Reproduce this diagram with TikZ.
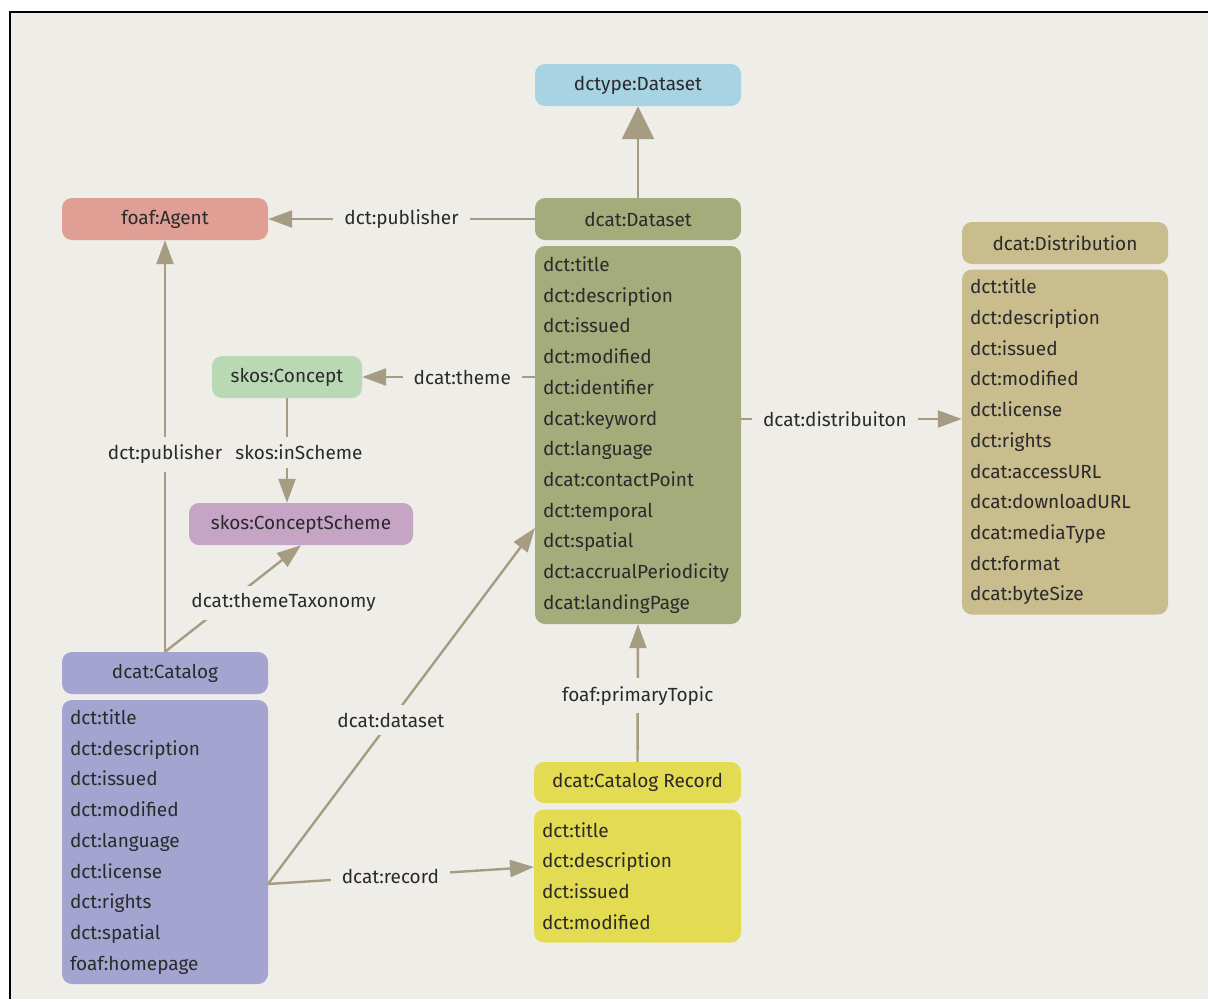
\documentclass[tikz,border=0pt]{standalone}
\usepackage{fontspec}
\setmainfont{Fira Sans}
\usetikzlibrary{arrows.meta}

\definecolor{paper}{HTML}{EFEDE8}
\definecolor{ink}{HTML}{2A2A2A}
\definecolor{wire}{HTML}{A69C82}
\definecolor{skyblue}{HTML}{A8D3E3}
\definecolor{salmon}{HTML}{E09F95}
\definecolor{olive}{HTML}{A4AC7B}
\definecolor{khaki}{HTML}{C9BC8D}
\definecolor{mint}{HTML}{B9D9B5}
\definecolor{mauve}{HTML}{C5A4C6}
\definecolor{lavender}{HTML}{A3A5D0}
\definecolor{lemon}{HTML}{E3DC52}

\begin{document}
\begin{tikzpicture}[x=1pt,y=-1pt,
  txt/.style={text=ink, font=\fontsize{19}{30.7}\selectfont},
  box/.style={txt, rounded corners=10pt, inner sep=0pt},
  head/.style={box, minimum width=206pt, minimum height=42pt},
  body/.style={box, text width=190pt, align=left, minimum width=206pt, inner xsep=8pt},
  link/.style={draw=wire, line width=2.4pt, -{Triangle[length=24pt,width=17pt]}},
  isa/.style={draw=wire, line width=2.6pt, -{Triangle[length=33pt,width=32pt]}},
  lbl/.style={txt, fill=paper, inner xsep=11pt, inner ysep=8pt}
]
\useasboundingbox (0,0) rectangle (1208,999);
% page frame
\fill[white] (0,0) rectangle (1208,999);
\fill[paper] (10,12) rectangle (1208,999);
\draw[black, line width=1.5pt] (10,999) -- (10,12) -- (1208,12);

% classes
\node[head, fill=skyblue] (dctype) at (638,85) {dctype:Dataset};
\node[head, fill=salmon] (agent) at (165,219) {foaf:Agent};
\node[head, fill=olive] (dsHead) at (638,219) {dcat:Dataset};
\node[body, fill=olive, minimum height=378pt] (dsBody) at (638,435) {dct:title\\dct:description\\dct:issued\\dct:modified\\dct:identifier\\dcat:keyword\\dct:language\\dcat:contactPoint\\dct:temporal\\dct:spatial\\dct:accrualPeriodicity\\dcat:landingPage};
\node[head, fill=khaki] (distHead) at (1065,243) {dcat:Distribution};
\node[body, fill=khaki, minimum height=345pt] (distBody) at (1065,442) {dct:title\\dct:description\\dct:issued\\dct:modified\\dct:license\\dct:rights\\dcat:accessURL\\dcat:downloadURL\\dcat:mediaType\\dct:format\\dcat:byteSize};
\node[head, fill=mint, minimum width=150pt] (concept) at (287,377) {skos:Concept};
\node[head, fill=mauve, minimum width=224pt] (scheme) at (301,524) {skos:ConceptScheme};
\node[head, fill=lavender] (catHead) at (165,673) {dcat:Catalog};
\node[body, fill=lavender, minimum height=284pt] (catBody) at (165,842) {dct:title\\dct:description\\dct:issued\\dct:modified\\dct:language\\dct:license\\dct:rights\\dct:spatial\\foaf:homepage};
\node[head, fill=lemon, minimum width=207pt, minimum height=41pt] (crHead) at (637.5,782.5) {dcat:Catalog Record};
\node[body, fill=lemon, minimum width=207pt, text width=191pt, minimum height=133pt] (crBody) at (637.5,876) {dct:title\\dct:description\\dct:issued\\dct:modified};

% connector end points
\coordinate (distY) at (0,419);
\coordinate (catOut) at (268,884);
\coordinate (dsIn) at (535,528);
\coordinate (crIn) at (534,867);

% properties
\draw[isa] (dsHead.north) -- (dctype.south);
\draw[link] (dsHead.west) -- node[lbl] (pubA) {dct:publisher} (agent.east);
\draw[link] (dsBody.west |- concept) -- node[lbl, pos=0.42] (themeL) {dcat:theme} (concept.east);
\draw[link] (dsBody.east |- distY) -- node[lbl, pos=0.425] (distL) {dcat:distribuiton} (distBody.west |- distY);
\draw[link] (catHead.north) -- node[lbl, pos=0.48] (pubB) {dct:publisher} (agent.south);
\draw[link] (concept.south) -- node[lbl, pos=0.52, xshift=12pt] (inSch) {skos:inScheme} (concept.south |- scheme.north);
\draw[link] (catHead.north) -- node[lbl, pos=0.46, xshift=56pt] (taxL) {dcat:themeTaxonomy} (scheme.south);
\draw[link] (catOut) -- node[lbl, pos=0.46] (dsL) {dcat:dataset} (dsIn);
\draw[link] (catOut) -- node[lbl, pos=0.46] (recL) {dcat:record} (crIn);
\draw[link] (crHead.north) -- node[lbl, pos=0.48] (topL) {foaf:primaryTopic} (dsBody.south);
\end{tikzpicture}
\end{document}
